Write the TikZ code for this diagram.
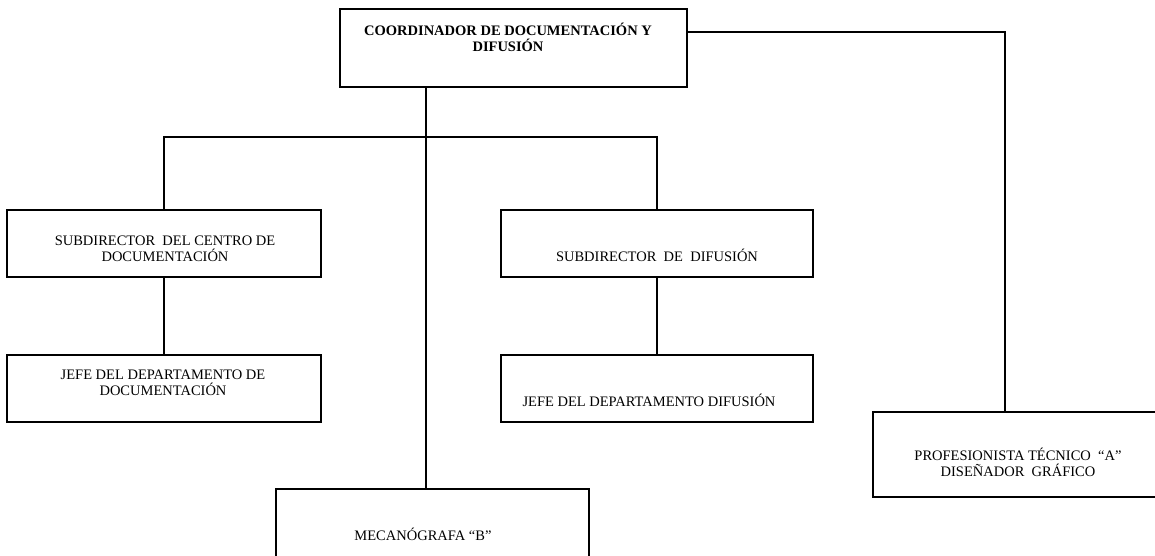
\documentclass[tikz,border=0pt]{standalone}
\usepackage{fontspec}
\setmainfont{Liberation Serif}
\usetikzlibrary{calc}

\tikzset{
  caja/.style={draw=black,line width=1.8pt,rectangle,inner sep=0pt},
  texto/.style={align=center,inner sep=0pt,font=\fontsize{14.5}{16}\selectfont},
  linea/.style={black,line width=1.8pt}
}

\begin{document}
\begin{tikzpicture}[x=1pt,y=-1pt]

\useasboundingbox (0,0) rectangle (1155,556);

% cajas
\node[caja,minimum width=347pt,minimum height=78pt] (coord) at (513.5,48) {};
\node[caja,minimum width=314pt,minimum height=67pt] (subdoc) at (164,243.5) {};
\node[caja,minimum width=314pt,minimum height=67pt] (jefedoc) at (164,388.5) {};
\node[caja,minimum width=312pt,minimum height=67pt] (subdif) at (657,243.5) {};
\node[caja,minimum width=312pt,minimum height=67pt] (jefedif) at (657,388.5) {};
\node[caja,minimum width=290pt,minimum height=85pt] (prof) at (1018,454.5) {};
\node[caja,minimum width=313pt,minimum height=90pt] (mecan) at (432.5,534) {};

% textos
\node[texto,font=\fontsize{14.5}{16}\selectfont\bfseries] (coordtxt) at (508,37) {COORDINADOR DE DOCUMENTACIÓN Y\\DIFUSIÓN};
\node[texto] (subdoctxt) at (165,249) {SUBDIRECTOR \ DEL CENTRO DE\\DOCUMENTACIÓN};
\node[texto] (jefedoctxt) at (163,383) {JEFE DEL DEPARTAMENTO DE\\DOCUMENTACIÓN};
\node[texto] (subdiftxt) at (657,255) {SUBDIRECTOR \ DE \ DIFUSIÓN};
\node[texto] (jefediftxt) at (649,400) {JEFE DEL DEPARTAMENTO DIFUSIÓN};
\node[texto] (proftxt) at (1018,462) {PROFESIONISTA TÉCNICO \ “A”\\DISEÑADOR \ GRÁFICO};
\node[texto] (mecantxt) at (423,534) {MECANÓGRAFA “B”};

\coordinate (tronco) at (426,0);
\coordinate (barra) at (0,137);
\coordinate (derecha) at (1005,32);

% lineas
\draw[linea] (tronco |- coord.south) -- (tronco |- mecan.north);
\draw[linea] (subdoc.north) -- (subdoc.north |- barra) -- (subdif.north |- barra) -- (subdif.north);
\draw[linea] (subdoc.south) -- (jefedoc.north);
\draw[linea] (subdif.south) -- (jefedif.north);
\draw[linea] (coord.east |- derecha) -- (derecha) -- (derecha |- prof.north);

\end{tikzpicture}
\end{document}
